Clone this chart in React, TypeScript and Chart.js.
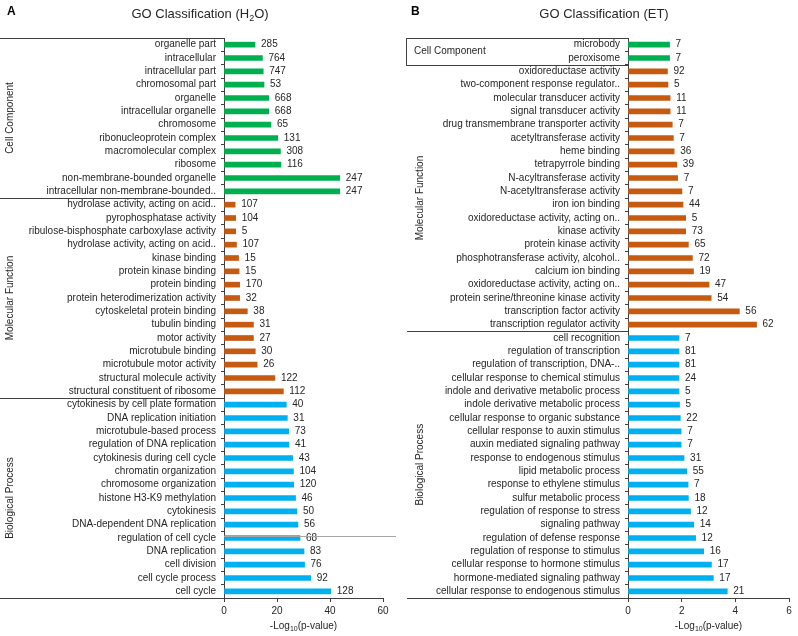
import React, { useEffect, useRef } from "react";
import { Chart, registerables } from "chart.js";

Chart.register(...registerables);

const GREEN = "#00B050";
const ORANGE = "#C55A11";
const BLUE = "#00B0F0";
const TEXT = "#262626";
const LINE = "#404040";
const FONT = '"Liberation Sans", Arial, sans-serif';

// ---------- Panel A (H2O) ----------
const A_CC_TERMS = ["organelle part", "intracellular", "intracellular part", "chromosomal part", "organelle", "intracellular organelle", "chromosome", "ribonucleoprotein complex", "macromolecular complex", "ribosome", "non-membrane-bounded organelle", "intracellular non-membrane-bounded.."];
const A_CC_VALUES = [11.7, 14.5, 14.8, 15.1, 16.9, 16.9, 17.7, 20.3, 21.3, 21.5, 43.7, 43.7];
const A_CC_COUNTS = [285, 764, 747, 53, 668, 668, 65, 131, 308, 116, 247, 247];

const A_MF_TERMS = ["hydrolase activity, acting on acid..", "pyrophosphatase activity", "ribulose-bisphosphate carboxylase activity", "hydrolase activity, acting on acid..", "kinase binding", "protein kinase binding", "protein binding", "protein heterodimerization activity", "cytoskeletal protein binding", "tubulin binding", "motor activity", "microtubule binding", "microtubule motor activity", "structural molecule activity", "structural constituent of ribosome"];
const A_MF_VALUES = [4.2, 4.4, 4.4, 4.7, 5.5, 5.7, 5.9, 5.9, 8.8, 11.1, 11.1, 11.8, 12.5, 19.2, 22.4];
const A_MF_COUNTS = [107, 104, 5, 107, 15, 15, 170, 32, 38, 31, 27, 30, 26, 122, 112];

const A_BP_TERMS = ["cytokinesis by cell plate formation", "DNA replication initiation", "microtubule-based process", "regulation of DNA replication", "cytokinesis during cell cycle", "chromatin organization", "chromosome organization", "histone H3-K9 methylation", "cytokinesis", "DNA-dependent DNA replication", "regulation of cell cycle", "DNA replication", "cell division", "cell cycle process", "cell cycle"];
const A_BP_VALUES = [23.5, 23.9, 24.4, 24.5, 25.9, 26.2, 26.3, 27.0, 27.5, 27.9, 28.7, 30.2, 30.4, 32.7, 40.3];
const A_BP_COUNTS = [40, 31, 73, 41, 43, 104, 120, 46, 50, 56, 68, 83, 76, 92, 128];

const A_X_TICKS = [0, 20, 40, 60];

// ---------- Panel B (ET) ----------
const B_CC_TERMS = ["microbody", "peroxisome"];
const B_CC_VALUES = [1.55, 1.55];
const B_CC_COUNTS = [7, 7];

const B_MF_TERMS = ["oxidoreductase activity", "two-component response regulator..", "molecular transducer activity", "signal transducer activity", "drug transmembrane transporter activity", "acetyltransferase activity", "heme binding", "tetrapyrrole binding", "N-acyltransferase activity", "N-acetyltransferase activity", "iron ion binding", "oxidoreductase activity, acting on..", "kinase activity", "protein kinase activity", "phosphotransferase activity, alcohol..", "calcium ion binding", "oxidoreductase activity, acting on..", "protein serine/threonine kinase activity", "transcription factor activity", "transcription regulator activity"];
const B_MF_VALUES = [1.47, 1.49, 1.57, 1.57, 1.65, 1.69, 1.72, 1.82, 1.85, 2.01, 2.05, 2.15, 2.15, 2.25, 2.40, 2.44, 3.02, 3.10, 4.15, 4.79];
const B_MF_COUNTS = [92, 5, 11, 11, 7, 7, 36, 39, 7, 7, 44, 5, 73, 65, 72, 19, 47, 54, 56, 62];

const B_BP_TERMS = ["cell recognition", "regulation of transcription", "regulation of transcription, DNA-..", "cellular response to chemical stimulus", "indole and derivative metabolic process", "indole derivative metabolic process", "cellular response to organic substance", "cellular response to auxin stimulus", "auxin mediated signaling pathway", "response to endogenous stimulus", "lipid metabolic process", "response to ethylene stimulus", "sulfur metabolic process", "regulation of response to stress", "signaling pathway", "regulation of defense response", "regulation of response to stimulus", "cellular response to hormone stimulus", "hormone-mediated signaling pathway", "cellular response to endogenous stimulus"];
const B_BP_VALUES = [1.90, 1.90, 1.90, 1.90, 1.90, 1.92, 1.95, 1.98, 1.98, 2.09, 2.19, 2.24, 2.25, 2.33, 2.45, 2.52, 2.82, 3.11, 3.18, 3.70];
const B_BP_COUNTS = [7, 81, 81, 24, 5, 5, 22, 7, 7, 31, 55, 7, 18, 12, 14, 12, 16, 17, 17, 21];

const B_X_TICKS = [0, 2, 4, 6];

type Group = {
  name: string;
  terms: string[];
  values: number[];
  counts: number[];
  color: string;
  mode: "vertical" | "box";
  labelX: number;
  lineX: number;
};

type Part = { t: string; sub?: boolean };

type PanelSpec = {
  letter: string;
  title: Part[];
  groups: Group[];
  xTicks: number[];
  leftWidth: number;
  padRight: number;
  artifactRow?: number;
};

function drawRich(ctx: CanvasRenderingContext2D, parts: Part[], cx: number, baseY: number, size: number, subSize: number, subDrop: number) {
  const widths = parts.map((p) => {
    ctx.font = `${p.sub ? subSize : size}px ${FONT}`;
    return ctx.measureText(p.t).width;
  });
  const total = widths.reduce((a, b) => a + b, 0);
  let x = cx - total / 2;
  ctx.textAlign = "left";
  ctx.textBaseline = "alphabetic";
  parts.forEach((p, i) => {
    ctx.font = `${p.sub ? subSize : size}px ${FONT}`;
    ctx.fillText(p.t, x, p.sub ? baseY + subDrop : baseY);
    x += widths[i];
  });
}

function hLine(ctx: CanvasRenderingContext2D, x1: number, x2: number, y: number) {
  const yy = Math.round(y) + 0.5;
  ctx.beginPath();
  ctx.moveTo(x1, yy);
  ctx.lineTo(x2, yy);
  ctx.stroke();
}

function makePlugin(spec: PanelSpec, counts: number[]) {
  return {
    id: "panelDecor" + spec.letter,
    afterDraw(chart: any) {
      const ctx: CanvasRenderingContext2D = chart.ctx;
      const area = chart.chartArea;
      const yScale = chart.scales.y;
      const rowH = yScale.getPixelForValue(1) - yScale.getPixelForValue(0);
      const edge = (k: number) => yScale.getPixelForValue(k) - rowH / 2;
      ctx.save();

      // count labels
      const meta = chart.getDatasetMeta(0);
      ctx.fillStyle = TEXT;
      ctx.font = `10px ${FONT}`;
      ctx.textAlign = "left";
      ctx.textBaseline = "middle";
      meta.data.forEach((bar: any, i: number) => {
        ctx.fillText(String(counts[i]), bar.x + 6, bar.y);
      });

      // group lines and labels
      ctx.strokeStyle = LINE;
      ctx.lineWidth = 1;
      let start = 0;
      spec.groups.forEach((g, gi) => {
        const top = edge(start);
        const bottom = edge(start + g.terms.length);
        if (gi === 0) hLine(ctx, g.lineX, area.left, top);
        hLine(ctx, g.lineX, area.left, bottom);
        if (g.mode === "box") {
          const xx = Math.round(g.lineX) + 0.5;
          ctx.beginPath();
          ctx.moveTo(xx, Math.round(top) + 0.5);
          ctx.lineTo(xx, Math.round(bottom) + 0.5);
          ctx.stroke();
          ctx.fillStyle = TEXT;
          ctx.font = `10px ${FONT}`;
          ctx.textAlign = "left";
          ctx.textBaseline = "middle";
          ctx.fillText(g.name, g.labelX, (top + bottom) / 2);
        } else {
          ctx.save();
          ctx.translate(g.labelX, (top + bottom) / 2);
          ctx.rotate(-Math.PI / 2);
          ctx.fillStyle = TEXT;
          ctx.font = `10px ${FONT}`;
          ctx.textAlign = "center";
          ctx.textBaseline = "middle";
          ctx.fillText(g.name, 0, 0);
          ctx.restore();
        }
        start += g.terms.length;
      });

      // stray gray line seen in the reference
      if (spec.artifactRow !== undefined) {
        ctx.strokeStyle = "#a6a6a6";
        hLine(ctx, area.left, chart.width - 2, yScale.getPixelForValue(spec.artifactRow) - 2);
      }

      // panel letter
      ctx.fillStyle = "#000";
      ctx.font = `bold 12px ${FONT}`;
      ctx.textAlign = "left";
      ctx.textBaseline = "alphabetic";
      ctx.fillText(spec.letter, spec.letter === "A" ? 7 : 13, 15);

      // title
      ctx.fillStyle = TEXT;
      drawRich(ctx, spec.title, spec.letter === "A" ? 200 : 206, 18, 13, 9, 3);

      // x axis title
      drawRich(ctx, [{ t: "-Log" }, { t: "10", sub: true }, { t: "(p-value)" }], (area.left + area.right) / 2, 629, 10, 7, 2);

      ctx.restore();
    },
  };
}

function PanelChart({ spec, left, width }: { spec: PanelSpec; left: number; width: number }) {
  const ref = useRef<HTMLCanvasElement | null>(null);
  useEffect(() => {
    if (!ref.current) return;
    const labels = spec.groups.flatMap((g) => g.terms);
    const values = spec.groups.flatMap((g) => g.values);
    const counts = spec.groups.flatMap((g) => g.counts);
    const colors = spec.groups.flatMap((g) => g.terms.map(() => g.color));
    const xMax = spec.xTicks[spec.xTicks.length - 1];
    const step = spec.xTicks[1] - spec.xTicks[0];
    const chart = new Chart(ref.current, {
      type: "bar",
      data: {
        labels,
        datasets: [
          {
            data: values,
            backgroundColor: colors,
            borderWidth: 0,
            barThickness: 5,
          },
        ],
      },
      options: {
        responsive: false,
        animation: false,
        indexAxis: "y",
        layout: { padding: { top: 38, right: spec.padRight, left: 0, bottom: 0 } },
        plugins: {
          legend: { display: false },
          tooltip: { enabled: false },
          title: { display: false },
        },
        scales: {
          x: {
            type: "linear",
            min: 0,
            max: xMax,
            ticks: { stepSize: step, color: TEXT, font: { family: FONT, size: 10 }, padding: 3 },
            grid: { drawOnChartArea: false, drawTicks: true, tickLength: 4, color: LINE },
            border: { display: true, color: LINE },
            afterFit: (s: any) => {
              s.height = 38;
            },
          },
          y: {
            type: "category",
            ticks: { color: TEXT, font: { family: FONT, size: 10 }, padding: 5, autoSkip: false },
            grid: { drawOnChartArea: false, drawTicks: true, tickLength: 3, offset: true, color: LINE },
            border: { display: true, color: LINE },
            afterFit: (s: any) => {
              s.width = spec.leftWidth;
            },
          },
        },
      } as any,
      plugins: [makePlugin(spec, counts)],
    });
    return () => chart.destroy();
  }, [spec]);
  return (
    <canvas
      ref={ref}
      width={width}
      height={636}
      style={{ position: "absolute", left, top: 0, width, height: 636 }}
    />
  );
}

const SPEC_A: PanelSpec = {
  letter: "A",
  title: [{ t: "GO Classification (H" }, { t: "2", sub: true }, { t: "O)" }],
  groups: [
    { name: "Cell Component", terms: A_CC_TERMS, values: A_CC_VALUES, counts: A_CC_COUNTS, color: GREEN, mode: "vertical", labelX: 10, lineX: 0 },
    { name: "Molecular Function", terms: A_MF_TERMS, values: A_MF_VALUES, counts: A_MF_COUNTS, color: ORANGE, mode: "vertical", labelX: 10, lineX: 0 },
    { name: "Biological Process", terms: A_BP_TERMS, values: A_BP_VALUES, counts: A_BP_COUNTS, color: BLUE, mode: "vertical", labelX: 10, lineX: 0 },
  ],
  xTicks: A_X_TICKS,
  leftWidth: 224,
  padRight: 15,
  artifactRow: 37,
};

const SPEC_B: PanelSpec = {
  letter: "B",
  title: [{ t: "GO Classification (ET)" }],
  groups: [
    { name: "Cell Component", terms: B_CC_TERMS, values: B_CC_VALUES, counts: B_CC_COUNTS, color: GREEN, mode: "box", labelX: 16, lineX: 8 },
    { name: "Molecular Function", terms: B_MF_TERMS, values: B_MF_VALUES, counts: B_MF_COUNTS, color: ORANGE, mode: "vertical", labelX: 22, lineX: 9 },
    { name: "Biological Process", terms: B_BP_TERMS, values: B_BP_VALUES, counts: B_BP_COUNTS, color: BLUE, mode: "vertical", labelX: 22, lineX: 9 },
  ],
  xTicks: B_X_TICKS,
  leftWidth: 230,
  padRight: 9,
};

export default function App() {
  return (
    <div style={{ position: "absolute", left: 0, top: 0, width: 798, height: 636, background: "#fff" }}>
      <PanelChart spec={SPEC_A} left={0} width={398} />
      <PanelChart spec={SPEC_B} left={398} width={400} />
    </div>
  );
}
